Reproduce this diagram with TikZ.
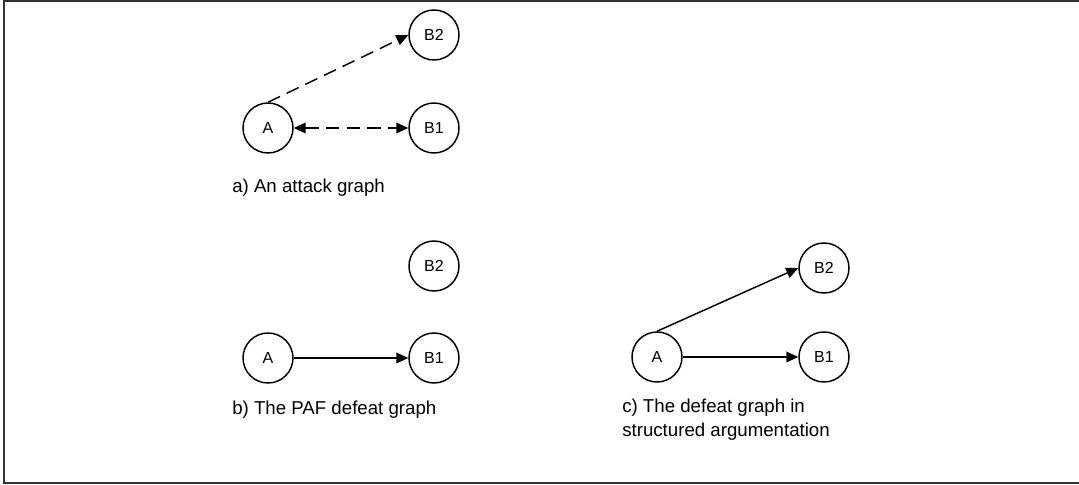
\documentclass[tikz,border=0pt]{standalone}
\usepackage{fontspec}
\setmainfont{Liberation Sans}
\usetikzlibrary{arrows.meta}

\tikzset{
  arg/.style={circle, draw=black, line width=1.1pt, minimum size=37.5pt, inner sep=0pt, font=\fontsize{12}{14}\selectfont},
  caption/.style={inner sep=0pt, align=left, font=\fontsize{14}{18}\selectfont},
  attack/.style={line width=1.1pt, dash pattern=on 10pt off 5.5pt, -{Triangle[length=9pt,width=8pt]}},
  defeat/.style={line width=1.1pt, -{Triangle[length=9pt,width=8pt]}}
}

\begin{document}
\begin{tikzpicture}[x=0.75pt,y=-0.75pt]
\useasboundingbox (0,0) rectangle (1079,485);
\draw[black!80,line width=1.2pt] (4,1) rectangle (1090,483);

% a) attack graph
\node[arg] (attA) at (268,128) {A};
\node[arg] (attBone) at (434,128) {B1};
\node[arg] (attBtwo) at (434,35) {B2};
\draw[attack] (attA.north) -- (attBtwo.west);
\draw[attack,{Triangle[length=9pt,width=8pt]}-{Triangle[length=9pt,width=8pt]}] (attA) -- (attBone);
\node[caption,anchor=base west] (capa) at (232,192) {a) An attack graph};

% b) PAF defeat graph
\node[arg] (pafA) at (268,358) {A};
\node[arg] (pafBone) at (434,358) {B1};
\node[arg] (pafBtwo) at (434,266) {B2};
\draw[defeat] (pafA) -- (pafBone);
\node[caption,anchor=base west] (capb) at (232,414) {b) The PAF defeat graph};

% c) defeat graph, structured argumentation
\node[arg] (defA) at (657,357) {A};
\node[arg] (defBone) at (824,357) {B1};
\node[arg] (defBtwo) at (824,268) {B2};
\draw[defeat] (defA.north) -- (defBtwo.west);
\draw[defeat] (defA) -- (defBone);
\node[caption,anchor=north west] (capc) at (622,399) {c) The defeat graph in\\structured argumentation};
\end{tikzpicture}
\end{document}
